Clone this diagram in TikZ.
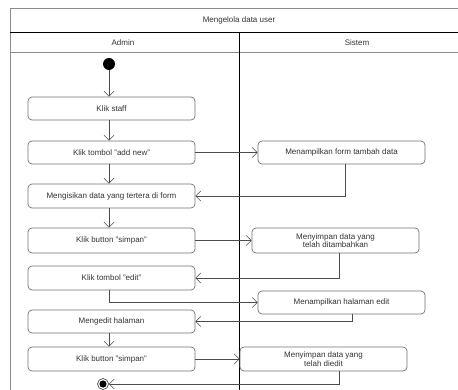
\documentclass[tikz,border=0pt]{standalone}
\usepackage{fontspec}
\setmainfont{Liberation Sans}
\usetikzlibrary{arrows.meta,calc}
\begin{document}
\begin{tikzpicture}[x=1pt,y=-1pt,
  act/.style={draw=black!55,line width=0.7pt,rounded corners=4pt,minimum width=167pt,minimum height=23pt,inner sep=1pt,font=\fontsize{8}{8.6}\selectfont,align=center,text=black!80},
  flow/.style={draw=black!70,line width=0.6pt,-{Straight Barb[length=5pt,width=10pt]}},
  lbl/.style={font=\fontsize{8}{9}\selectfont,text=black!80}]
\useasboundingbox (0,0) rectangle (458,390);
\fill[white] (0,0) rectangle (458,390);
% frame
\draw[black!45,line width=0.8pt] (458,8) -- (10,8) -- (10,390);
\draw[black,line width=1pt] (10,33) -- (458,33);
\draw[black!45,line width=0.8pt] (10,52) -- (458,52);
\draw[black,line width=0.8pt] (239,33) -- (239,390);
\node[lbl] (title) at (239,20.5) {Mengelola data user};
\node[lbl] (admin) at (123,43) {Admin};
\node[lbl] (sistem) at (357,43) {Sistem};
% nodes
\node[circle,fill=black,minimum size=12pt,inner sep=0pt] (start) at (109,64) {};
\node[act] (staff) at (111.5,108.5) {Klik staff};
\node[act] (addnew) at (111.5,152.5) {Klik tombol "add new"};
\node[act] (form) at (341.5,152.5) {Menampilkan form tambah data};
\node[act,minimum height=24pt] (isi) at (111.5,196) {Mengisikan data yang tertera di form};
\node[act,minimum height=25pt] (simpan1) at (111.5,240.5) {Klik button "simpan"};
\node[act,minimum height=25pt] (simpan1s) at (335.5,240.5) {Menyimpan data yang\\ telah ditambahkan};
\node[act,minimum height=24pt] (edit) at (111.5,278) {Klik tombol "edit"};
\node[act] (haledit) at (341.5,302.5) {Menampilkan halaman edit};
\node[act] (mengedit) at (111.5,321.5) {Mengedit halaman};
\node[act,minimum height=24pt] (simpan2) at (111.5,359) {Klik button "simpan"};
\node[act,minimum height=24pt] (simpan2s) at (323.5,359) {Menyimpan data yang\\ telah diedit};
\node[circle,draw=black!70,line width=0.7pt,minimum size=11pt,inner sep=0pt] (end) at (103,384) {};
\fill[black] (end.center) circle (3.6pt);
% connectors
\draw[flow] (start) -- (start |- staff.north);
\draw[flow] (start |- staff.south) -- (start |- addnew.north);
\draw[flow] (addnew.east) -- (form.west);
\draw[flow] (start |- addnew.south) -- (start |- isi.north);
\draw[flow] ([xshift=3.5pt]form.south) |- (isi.east);
\draw[flow] (start |- isi.south) -- (start |- simpan1.north);
\draw[flow] (simpan1.east) -- (simpan1s.west);
\draw[flow] ([xshift=3.5pt]simpan1s.south) |- (edit.east);
\draw[flow] (start |- edit.south) |- (haledit.west);
\draw[flow] ([xshift=10.5pt]haledit.south) |- (mengedit.east);
\draw[flow] (start |- mengedit.south) -- (start |- simpan2.north);
\draw[flow] (simpan2.east) -- (simpan2s.west);
\draw[flow] ([xshift=15.5pt]simpan2s.south) |- (end.east);
\end{tikzpicture}
\end{document}
